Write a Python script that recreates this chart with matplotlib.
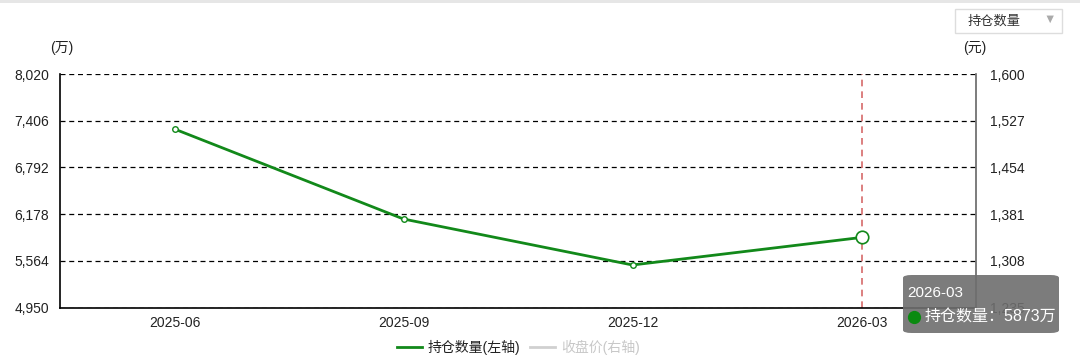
import matplotlib
matplotlib.use('Agg')
import matplotlib.pyplot as plt
from matplotlib.patches import FancyBboxPatch, Rectangle
from matplotlib.lines import Line2D
from matplotlib.ticker import FuncFormatter

plt.rcParams['font.family'] = ['Liberation Sans', 'Noto Sans CJK SC', 'DejaVu Sans']

# data
quarters = ['2025-06', '2025-09', '2025-12', '2026-03']
holdings = [7297, 6115, 5511, 5873]   # 万
left_ticks = [4950, 5564, 6178, 6792, 7406, 8020]
right_ticks = [1235, 1308, 1381, 1454, 1527, 1600]

green = '#12891a'

fig = plt.figure(figsize=(10.8, 3.57), dpi=100)
ax = fig.add_axes([60 / 1080, 1 - 307.7 / 357, 916 / 1080, 233.7 / 357])
x = list(range(len(quarters)))

ax.plot(x, holdings, color=green, lw=2, zorder=3)
ax.plot(x[:-1], holdings[:-1], 'o', ms=4, mfc='white', mec=green, mew=1, zorder=4)
ax.plot(x[-1], holdings[-1], 'o', ms=9, mfc='white', mec=green, mew=1.2, zorder=4)
ax.axvline(x[-1], color='#d66a6a', lw=1.2, ls=(0, (4, 3)), zorder=2)

ax.set_xlim(-0.5, len(quarters) - 0.5)
ax.set_ylim(left_ticks[0], left_ticks[-1])
ax.set_yticks(left_ticks)
ax.yaxis.set_major_formatter(FuncFormatter(lambda v, p: f'{int(v):,}'))
ax.set_xticks(x)
ax.set_xticklabels(quarters)
ax.grid(axis='y', color='black', ls=(0, (4, 3)), lw=0.9)
ax.tick_params(length=0, labelsize=10, colors='#222')
ax.tick_params(axis='x', pad=6)
ax.tick_params(axis='y', pad=8)
ax.spines['top'].set_visible(False)
ax.spines['right'].set_visible(False)
ax.spines['left'].set_linewidth(1.2)
ax.spines['bottom'].set_linewidth(1.2)

ax2 = ax.twinx()
ax2.set_ylim(right_ticks[0], right_ticks[-1])
ax2.set_yticks(right_ticks)
ax2.yaxis.set_major_formatter(FuncFormatter(lambda v, p: f'{int(v):,}'))
ax2.tick_params(length=0, labelsize=10, colors='#222', pad=10)
for s in ['top', 'left', 'bottom']:
    ax2.spines[s].set_visible(False)
ax2.spines['right'].set_color('#666')
ax2.spines['right'].set_linewidth(1.2)

# unit labels
fig.text(62 / 1080, 1 - 48 / 357, '(万)', fontsize=10, ha='center', va='center', color='#222')
fig.text(975 / 1080, 1 - 48 / 357, '(元)', fontsize=10, ha='center', va='center', color='#222')

# top border
fig.add_artist(Rectangle((0, 1 - 3 / 357), 1, 3 / 357, transform=fig.transFigure,
                         color='#e6e6e6', lw=0))

# dropdown
fig.add_artist(Rectangle((955 / 1080, 1 - 33 / 357), 107 / 1080, 24 / 357,
                         transform=fig.transFigure, fc='white', ec='#dddddd', lw=1))
fig.text(968 / 1080, 1 - 21 / 357, '持仓数量', fontsize=9.5, va='center', color='#333')
fig.text(1050 / 1080, 1 - 20 / 357, '▼', fontsize=9, ha='center', va='center', color='#aaa')

# legend
fig.add_artist(Line2D([397 / 1080, 422 / 1080], [1 - 347 / 357] * 2,
                      transform=fig.transFigure, color=green, lw=2))
fig.text(428 / 1080, 1 - 347 / 357, '持仓数量(左轴)', fontsize=10, va='center', color='#222')
fig.add_artist(Line2D([530 / 1080, 555 / 1080], [1 - 347 / 357] * 2,
                      transform=fig.transFigure, color='#d0d0d0', lw=2))
fig.text(561 / 1080, 1 - 347 / 357, '收盘价(右轴)', fontsize=10, va='center', color='#c8c8c8')

# tooltip (covers the bottom right tick label, as in the original)
tip = FancyBboxPatch((903 / 1080, 1 - 333 / 357), 156 / 1080, 58 / 357,
                     boxstyle='round,pad=0,rounding_size=0.008', transform=fig.transFigure,
                     fc='#6e6e6e', ec='none', alpha=0.9, zorder=10)
fig.add_artist(tip)
fig.text(907 / 1080, 1 - 293 / 357, quarters[-1], fontsize=11, color='white',
         va='center', zorder=11)
fig.add_artist(Line2D([914 / 1080], [1 - 317 / 357], marker='o', ms=8.5, color='#0a8a10',
                      transform=fig.transFigure, zorder=11))
fig.text(925 / 1080, 1 - 317 / 357, f'持仓数量：{holdings[-1]}万', fontsize=11.5,
         color='white', va='center', zorder=11)

fig.savefig('out.png', dpi=100)
